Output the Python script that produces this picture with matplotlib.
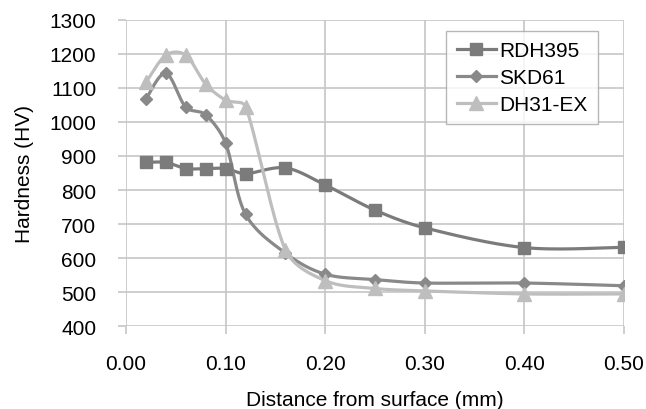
import numpy as np
import matplotlib
matplotlib.use("Agg")
import matplotlib.pyplot as plt

x_mm = [0.02, 0.04, 0.06, 0.08, 0.10, 0.12, 0.16, 0.20, 0.25, 0.30, 0.40, 0.50]
rdh395 = [881, 881, 863, 863, 863, 848, 865, 815, 741, 689, 631, 632]
skd61 = [1067, 1143, 1043, 1021, 938, 729, 615, 553, 537, 527, 527, 519]
dh31ex = [1116, 1196, 1196, 1111, 1064, 1045, 625, 534, 511, 504, 495, 495]
series_names = ["RDH395", "SKD61", "DH31-EX"]
x_ticks = [0.0, 0.1, 0.2, 0.3, 0.4, 0.5]
y_ticks = list(range(400, 1301, 100))

plt.rcParams['font.family'] = ['Liberation Sans', 'DejaVu Sans']

XMIN, XMAX, YMIN, YMAX = 0.0, 0.5, 400, 1300
AX_L, AX_R, AX_T, AX_B = 126, 624, 20.7, 327.3


def smooth(xs, ys, n=50, k=0.36):
    # Bezier smoothing (Catmull-Rom style, tension 1/6) computed in pixel space
    sx = (AX_R - AX_L) / (XMAX - XMIN)
    sy = (AX_B - AX_T) / (YMAX - YMIN)
    P = np.column_stack([np.asarray(xs, float) * sx, np.asarray(ys, float) * sy])
    m = len(P)
    out = []
    for i in range(m - 1):
        p0 = P[i - 1] if i > 0 else P[i]
        p1 = P[i]
        p2 = P[i + 1]
        p3 = P[i + 2] if i + 2 < m else P[i + 1]
        seg = np.linalg.norm(p2 - p1)
        o1 = (p2 - p0) / 6.0
        o2 = (p3 - p1) / 6.0
        for o in (o1, o2):
            L = np.linalg.norm(o)
            if L > k * seg and L > 0:
                o *= k * seg / L
        c1 = p1 + o1
        c2 = p2 - o2
        t = np.linspace(0, 1, n)[:, None]
        b = ((1 - t) ** 3) * p1 + 3 * ((1 - t) ** 2) * t * c1 + 3 * (1 - t) * t ** 2 * c2 + t ** 3 * p2
        out.append(b if i == 0 else b[1:])
    B = np.vstack(out)
    return B[:, 0] / sx, B[:, 1] / sy


fig = plt.figure(figsize=(6.46, 4.10), dpi=100)
ax = fig.add_axes([AX_L / 646, 1 - AX_B / 410, (AX_R - AX_L) / 646, (AX_B - AX_T) / 410])

styles = [
    (rdh395, '#7b7b7b', 's', 9.0),
    (skd61, '#898989', 'D', 6.5),
    (dh31ex, '#bebebe', '^', 9.5),
]
handles = []
for (vals, col, mk, ms), name in zip(styles, series_names):
    sx, sy = smooth(x_mm, vals)
    ax.plot(sx, sy, color=col, lw=2.3, zorder=3, solid_capstyle='round')
    ax.plot(x_mm, vals, linestyle='none', marker=mk, ms=ms, color=col,
            markeredgecolor=col, zorder=4)
    h, = ax.plot([], [], color=col, lw=2.3, marker=mk, ms=ms, markeredgecolor=col)
    handles.append(h)

ax.set_xlim(XMIN, XMAX)
ax.set_ylim(YMIN, YMAX)
ax.set_xticks(x_ticks)
ax.set_yticks(y_ticks)
ax.set_xticklabels([f"{v:.2f}" for v in x_ticks])
ax.set_yticklabels([str(v) for v in y_ticks])
ax.grid(True, color='#c6c6c6', lw=1.2, zorder=0)
for s in ax.spines.values():
    s.set_visible(False)
ax.tick_params(axis='both', direction='out', length=6, width=1.2, color='#c6c6c6',
               labelsize=15, labelcolor='black')
ax.tick_params(axis='y', pad=15.5)
ax.tick_params(axis='x', pad=14)
ax.set_axisbelow(True)

ax.set_xlabel("Distance from surface (mm)", fontsize=15)
ax.set_ylabel("Hardness (HV)", fontsize=15)
ax.xaxis.set_label_coords(0.5, (AX_B - 391) / (AX_B - AX_T))
ax.yaxis.set_label_coords((34 - AX_L) / (AX_R - AX_L), 0.5)

leg = ax.legend(handles, series_names, loc='upper right', bbox_to_anchor=(598 / 646, 1 - 31.7 / 410),
                bbox_transform=fig.transFigure, frameon=True, fancybox=False,
                fontsize=15, handlelength=1.9, handletextpad=0.15, borderpad=0.5,
                labelspacing=0.38, borderaxespad=0, handleheight=0.7)
leg.get_frame().set_edgecolor('#a6a6a6')
leg.get_frame().set_linewidth(1.0)

fig.savefig("out.png", dpi=100)
